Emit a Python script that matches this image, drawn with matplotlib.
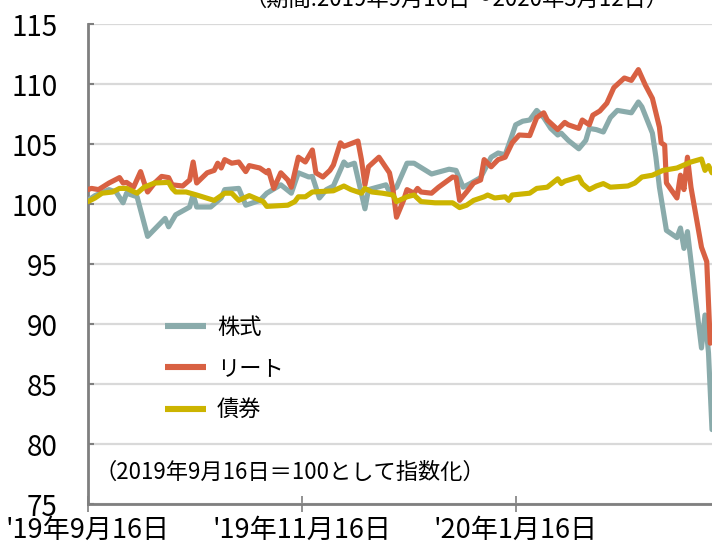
import matplotlib
matplotlib.use("Agg")
import matplotlib.pyplot as plt
import pandas as pd

# ---------------- data (days since 2019-09-16, index value) ----------------
start_date = "2019-09-16"
end_days = 178

stock_days = [0, 2, 6, 8, 10, 11, 14, 17, 22, 23, 25, 29, 30, 31, 35, 38, 39, 43, 45, 49,
              51, 55, 58, 60, 63, 64, 66, 68, 70, 73, 74, 76, 79, 80, 85, 86, 88, 91, 93, 98,
              103, 105, 107, 109, 112, 115, 117, 119, 121, 122, 124, 126, 128, 130, 132, 134,
              135, 137, 140, 142, 143, 145, 147, 149, 151, 155, 157, 158, 161, 162, 163, 165,
              168, 169, 170, 171, 173, 175, 176, 177, 178]
stock_vals = [100.3, 100.7, 101.2, 101.0, 100.1, 100.9, 100.6, 97.3, 98.8, 98.1, 99.1, 99.75,
              100.8, 99.75, 99.75, 100.5, 101.2, 101.3, 99.9, 100.3, 100.9, 101.6, 100.9, 102.6,
              102.25, 102.3, 100.5, 101.2, 101.5, 103.5, 103.2, 103.4, 99.6, 101.2, 101.6, 101.0,
              101.4, 103.4, 103.4, 102.5, 102.9, 102.8, 101.4, 101.7, 102.2, 103.9, 104.25, 104.1,
              105.75, 106.6, 106.9, 107.0, 107.8, 107.2, 106.3, 105.75, 105.9, 105.3, 104.6, 105.3,
              106.3, 106.2, 106.0, 107.2, 107.8, 107.6, 108.5, 108.1, 105.9, 103.9, 101.4, 97.8,
              97.2, 98.0, 96.3, 97.7, 92.8, 88.0, 90.75, 87.6, 81.2]

reit_days = [0, 1, 3, 6, 9, 10, 11, 13, 15, 16, 17, 19, 21, 23, 24, 27, 29, 30, 31, 34, 36,
             37, 38, 39, 41, 43, 45, 46, 49, 51, 51.5, 53, 55, 57, 58, 60, 62, 64, 65, 67, 69,
             70, 72, 73, 77, 78, 79, 80, 83, 86, 87, 88, 90, 91, 93, 94, 95, 98, 100, 104, 105,
             106, 108, 110, 112, 113, 115, 117, 119, 121, 123, 126, 128, 130, 131, 134, 136, 137,
             140, 141, 143, 144, 146, 148, 150, 153, 155, 157, 159, 161, 163, 163.5, 164.5, 165,
             168, 169, 170, 171, 172, 175, 176.5, 177.5]
reit_vals = [101.2, 101.3, 101.2, 101.75, 102.2, 101.75, 101.8, 101.4, 102.7, 101.8, 101.0,
             101.75, 102.3, 102.2, 101.6, 101.5, 102.0, 103.5, 101.75, 102.6, 102.8, 103.4, 103.0,
             103.7, 103.4, 103.5, 102.7, 103.2, 103.0, 102.6, 102.8, 101.3, 102.6, 102.0, 101.4,
             103.9, 103.5, 104.5, 102.6, 102.25, 102.8, 103.25, 105.1, 104.8, 105.25, 103.7, 101.6,
             103.1, 103.9, 102.6, 101.2, 98.9, 100.3, 101.2, 100.9, 101.3, 101.0, 100.9, 101.4,
             102.25, 102.2, 100.3, 101.0, 101.75, 102.0, 103.7, 103.1, 103.7, 103.9, 105.1, 105.75,
             105.7, 107.2, 107.6, 107.0, 106.2, 106.8, 106.6, 106.3, 107.0, 106.6, 107.4, 107.75,
             108.4, 109.7, 110.5, 110.3, 111.2, 109.9, 108.8, 106.4, 105.1, 104.9, 101.75, 100.5,
             102.4, 101.2, 103.9, 101.4, 96.4, 95.2, 88.4]

bond_days = [0, 2, 4, 7, 9, 11, 14, 16, 19, 23, 24, 25, 28, 31, 36, 39, 41, 43, 46, 50, 51,
             57, 59, 60, 62, 64, 70, 73, 75, 78, 79, 81, 84, 87, 88, 91, 93, 95, 99, 104, 106,
             108, 110, 113, 114, 116, 119, 120, 121, 126, 128, 131, 134, 135, 136, 140, 141, 143,
             145, 147, 149, 154, 156, 158, 161, 164, 168, 170, 172, 175, 176, 177, 178]
bond_vals = [100.2, 100.5, 100.9, 101.0, 101.3, 101.3, 100.9, 101.4, 101.75, 101.8, 101.3,
             101.0, 101.0, 100.75, 100.3, 100.9, 100.9, 100.3, 100.7, 100.2, 99.8, 99.9, 100.2,
             100.6, 100.6, 101.0, 101.1, 101.5, 101.2, 100.9, 101.3, 101.0, 100.9, 100.75, 100.2,
             100.6, 100.75, 100.2, 100.1, 100.1, 99.7, 99.9, 100.3, 100.6, 100.75, 100.5, 100.6,
             100.3, 100.75, 100.9, 101.3, 101.4, 102.1, 101.7, 101.9, 102.25, 101.7, 101.2, 101.5,
             101.7, 101.4, 101.5, 101.75, 102.25, 102.4, 102.8, 103.0, 103.25, 103.5, 103.75,
             102.8, 103.2, 102.6]

series_names = ["株式", "リート", "債券"]
series_colors = ["#8AABAB", "#D86143", "#CCB400"]
y_ticks = [75, 80, 85, 90, 95, 100, 105, 110, 115]
x_tick_dates = ["2019-09-16", "2019-11-16", "2020-01-16"]
x_tick_labels = ["'19年9月16日", "'19年11月16日", "'20年1月16日"]
title_text = "（期間:2019年9月16日～2020年3月12日）"
note_text = "（2019年9月16日＝100として指数化）"

# ---------------- plot ----------------
FAM = ["Liberation Sans Narrow", "Noto Sans CJK JP", "DejaVu Sans"]
plt.rcParams["font.family"] = FAM

t0 = pd.Timestamp(start_date)
def to_dates(days):
    return t0 + pd.to_timedelta(days, unit="D")

fig = plt.figure(figsize=(7.12, 5.47), dpi=100)
ax = fig.add_axes([88 / 712, 43 / 547, 624 / 712, 480 / 547])

for days, vals, name, col in zip([stock_days, reit_days, bond_days],
                                 [stock_vals, reit_vals, bond_vals],
                                 series_names, series_colors):
    ax.plot(to_dates(days), vals, color=col, lw=3.7, label=name,
            solid_joinstyle="round", solid_capstyle="round", zorder=3)

ax.set_ylim(75, 115)
ax.set_xlim(t0, t0 + pd.Timedelta(days=end_days))
ax.set_yticks(y_ticks)
ax.set_yticklabels([str(v) for v in y_ticks])
ax.set_xticks(pd.to_datetime(x_tick_dates))
ax.set_xticklabels(x_tick_labels)

ax.grid(axis="y", color="#D9D9D9", lw=1.6, zorder=0)
ax.set_axisbelow(True)
for s in ["top", "right"]:
    ax.spines[s].set_visible(False)
ax.spines["left"].set_color("#7F7F7F")
ax.spines["left"].set_linewidth(2.0)
ax.spines["bottom"].set_color("#7F7F7F")
ax.spines["bottom"].set_linewidth(2.0)

ax.tick_params(axis="y", direction="in", length=4, width=1.5, color="#7F7F7F",
               pad=22, labelsize=20, labelcolor="#000000")
ax.tick_params(axis="x", direction="inout", length=12, width=1.2, color="#7F7F7F",
               pad=3.5, labelsize=19.5, labelcolor="#000000")

leg = ax.legend(frameon=False, loc="upper left", bbox_to_anchor=(0.123, 0.392),
                borderpad=0, borderaxespad=0, handlelength=1.85, handletextpad=0.5,
                labelspacing=0.82, prop={"family": FAM, "size": 16})
for h in leg.get_lines():
    h.set_linewidth(4.4)
    h.set_solid_capstyle("butt")

ax.text(0.011, 0.065, note_text, transform=ax.transAxes, fontsize=16,
        ha="left", va="center", family=FAM)
fig.text(245 / 712, 1 + 1 / 547, title_text, fontsize=16, ha="left", va="center",
         family=FAM)

fig.savefig("out.png", dpi=100)
